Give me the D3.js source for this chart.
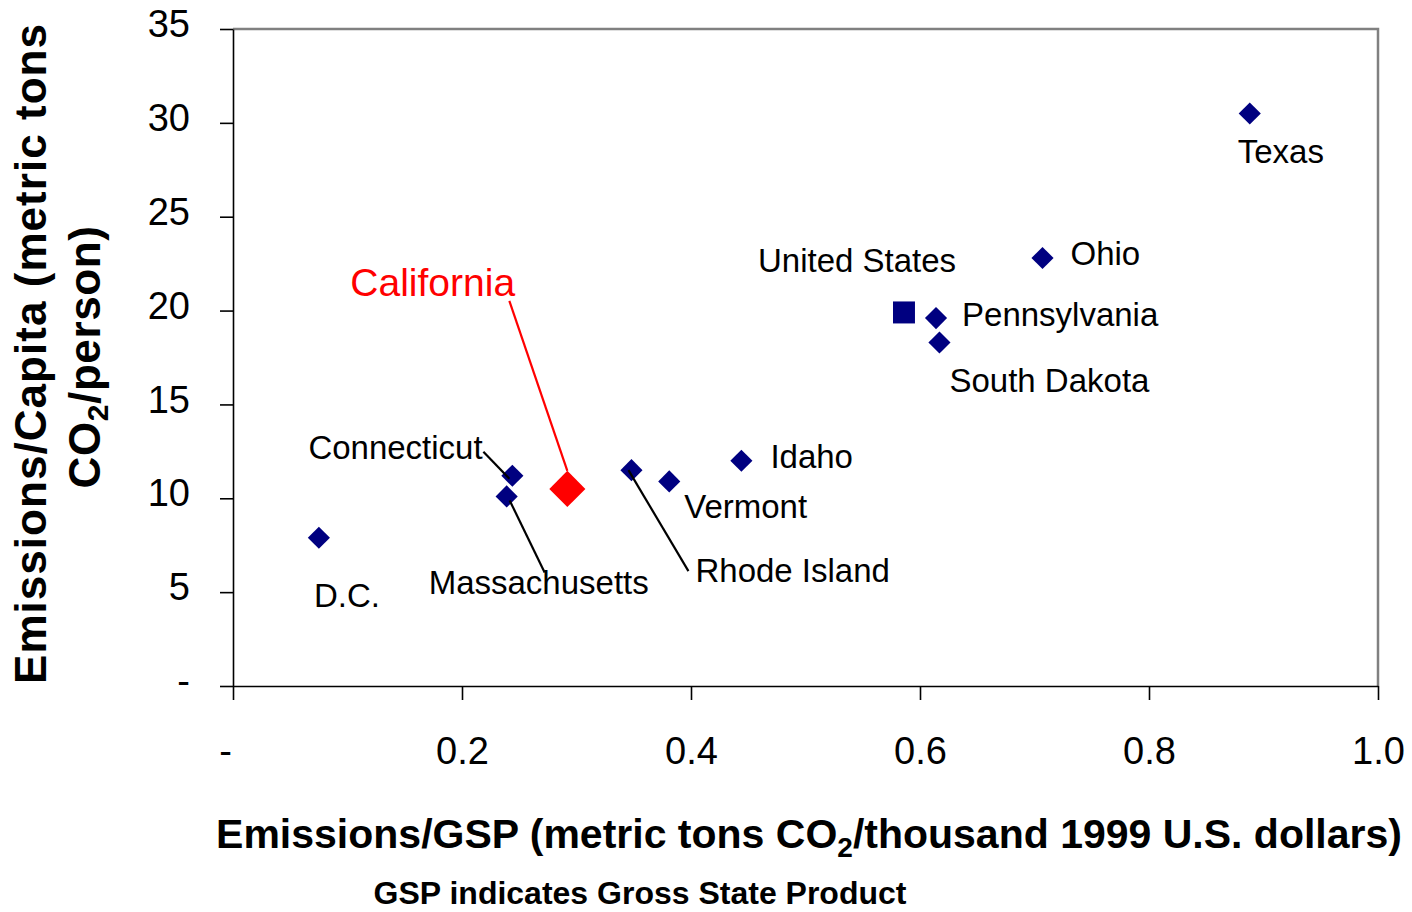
<!DOCTYPE html>
<html>
<head>
<meta charset="utf-8">
<script src="https://cdn.jsdelivr.net/npm/d3@7"></script>
<style>
  body { margin: 0; background: #fff; }
  svg { display: block; font-family: "Liberation Sans", Arial, sans-serif; }
  .axis text { font-size: 38px; fill: #000; }
  .axis path, .axis line { stroke: #000; stroke-width: 1.6; }
  .lbl { font-size: 33px; fill: #000; }
</style>
</head>
<body>
<svg class="chart"></svg>
<script>
// values
const states = ["Texas", "Ohio", "United States", "Pennsylvania", "South Dakota", "Idaho",
  "Vermont", "Rhode Island", "California", "Connecticut", "Massachusetts", "D.C."];
const emissionsPerGsp = [0.888, 0.707, 0.586, 0.614, 0.617, 0.444, 0.381, 0.348, 0.292, 0.244, 0.239, 0.075];
const emissionsPerCapita = [30.5, 22.8, 19.9, 19.6, 18.3, 12.0, 10.9, 11.5, 10.5, 11.2, 10.1, 7.9];

const xTicks = [0, 0.2, 0.4, 0.6, 0.8, 1.0];
const xTickLabels = ["-", "0.2", "0.4", "0.6", "0.8", "1.0"];
const yTicks = [0, 5, 10, 15, 20, 25, 30, 35];
const yTickLabels = ["-", "5", "10", "15", "20", "25", "30", "35"];

// label placement, pixel offsets from each marker (layout only)
const labelLayout = {
  "Texas":         { dx: -12, dy: 50 },
  "Ohio":          { dx: 28, dy: 7 },
  "United States": { dx: -146, dy: -40 },
  "Pennsylvania":  { dx: 26, dy: 8 },
  "South Dakota":  { dx: 10, dy: 50 },
  "Idaho":         { dx: 29, dy: 7 },
  "Vermont":       { dx: 15, dy: 37 },
  "Rhode Island":  { dx: 64, dy: 112, leader: [-3, 0, 57, 101] },
  "California":    { dx: -217, dy: -193, leader: [-58, -188, 0, -18] },
  "Connecticut":   { dx: -204, dy: -17, leader: [-29, -24, -3, 3] },
  "Massachusetts": { dx: -78, dy: 98, leader: [3, 4, 38, 76] },
  "D.C.":          { dx: -5, dy: 69 }
};

const width = 1412, height = 912;
const plot = { left: 233, right: 1378, top: 29, bottom: 686 };

const svg = d3.select(".chart")
    .attr("width", width)
    .attr("height", height);

const x = d3.scaleLinear().domain([0, 1]).range([plot.left, plot.right]);
const y = d3.scaleLinear().domain([0, 35]).range([plot.bottom, plot.top]);

// grey frame on top and right
svg.append("path")
    .attr("d", `M${plot.left},${plot.top}H${plot.right}V${plot.bottom}`)
    .attr("fill", "none")
    .attr("stroke", "#808080")
    .attr("stroke-width", 2.5);

const xAxis = d3.axisBottom(x)
    .tickValues(xTicks)
    .tickFormat((d, i) => xTickLabels[i])
    .tickSizeInner(14)
    .tickSizeOuter(0)
    .tickPadding(37);

const yAxis = d3.axisLeft(y)
    .tickValues(yTicks)
    .tickFormat((d, i) => yTickLabels[i])
    .tickSizeInner(13)
    .tickSizeOuter(0)
    .tickPadding(30);

svg.append("g")
    .attr("class", "x axis")
    .attr("transform", `translate(0,${plot.bottom})`)
    .call(xAxis)
    .call(g => g.selectAll(".tick text").attr("dy", "0.71em"))
    .call(g => g.selectAll(".tick text").filter(d => d === 0).attr("dx", -8));

svg.append("g")
    .attr("class", "y axis")
    .attr("transform", `translate(${plot.left},0)`)
    .call(yAxis)
    .call(g => g.selectAll(".tick text").attr("dy", "0.2em"));

svg.selectAll(".axis .domain").attr("stroke-width", 2);

const data = states.map((s, i) => ({ name: s, gsp: emissionsPerGsp[i], cap: emissionsPerCapita[i] }));

const diamond = d3.symbol().type(d3.symbolSquare);

svg.selectAll(".mark")
    .data(data)
  .enter().append("path")
    .attr("class", "mark")
    .attr("transform", d => `translate(${x(d.gsp)},${y(d.cap)})` + (d.name === "United States" ? "" : " rotate(45)"))
    .attr("d", d => diamond.size(d.name === "California" ? 650 : d.name === "United States" ? 484 : 245)())
    .attr("fill", d => d.name === "California" ? "#ff0000" : "#000080");

// leader lines
svg.selectAll(".leader")
    .data(data.filter(d => labelLayout[d.name].leader))
  .enter().append("line")
    .attr("class", "leader")
    .attr("x1", d => x(d.gsp) + labelLayout[d.name].leader[0])
    .attr("y1", d => y(d.cap) + labelLayout[d.name].leader[1])
    .attr("x2", d => x(d.gsp) + labelLayout[d.name].leader[2])
    .attr("y2", d => y(d.cap) + labelLayout[d.name].leader[3])
    .attr("stroke", d => d.name === "California" ? "#ff0000" : "#000")
    .attr("stroke-width", 2.2);

svg.selectAll(".lbl")
    .data(data)
  .enter().append("text")
    .attr("class", "lbl")
    .attr("x", d => x(d.gsp) + labelLayout[d.name].dx)
    .attr("y", d => y(d.cap) + labelLayout[d.name].dy)
    .style("font-size", d => d.name === "California" ? "39px" : null)
    .style("fill", d => d.name === "California" ? "#ff0000" : null)
    .text(d => d.name);

// axis titles
const xTitle = svg.append("text")
    .attr("x", 809)
    .attr("y", 848)
    .attr("text-anchor", "middle")
    .style("font-size", "41px")
    .style("font-weight", "bold");
xTitle.append("tspan").text("Emissions/GSP (metric tons CO");
xTitle.append("tspan").attr("dy", 9).style("font-size", "28px").text("2");
xTitle.append("tspan").attr("dy", -9).text("/thousand 1999 U.S. dollars)");

svg.append("text")
    .attr("x", 640)
    .attr("y", 904)
    .attr("text-anchor", "middle")
    .style("font-size", "32px")
    .style("font-weight", "bold")
    .text("GSP indicates Gross State Product");

svg.append("text")
    .attr("transform", "translate(46,354) rotate(-90)")
    .attr("text-anchor", "middle")
    .attr("textLength", 660)
    .attr("lengthAdjust", "spacing")
    .style("font-size", "44px")
    .style("font-weight", "bold")
    .text("Emissions/Capita (metric tons");

const yTitle2 = svg.append("text")
    .attr("transform", "translate(100,357) rotate(-90)")
    .attr("text-anchor", "middle")
    .style("font-size", "44px")
    .style("letter-spacing", "0.6px")
    .style("font-weight", "bold");
yTitle2.append("tspan").text("CO");
yTitle2.append("tspan").attr("dy", 8).style("font-size", "30px").text("2");
yTitle2.append("tspan").attr("dy", -8).text("/person)");
</script>
</body>
</html>
